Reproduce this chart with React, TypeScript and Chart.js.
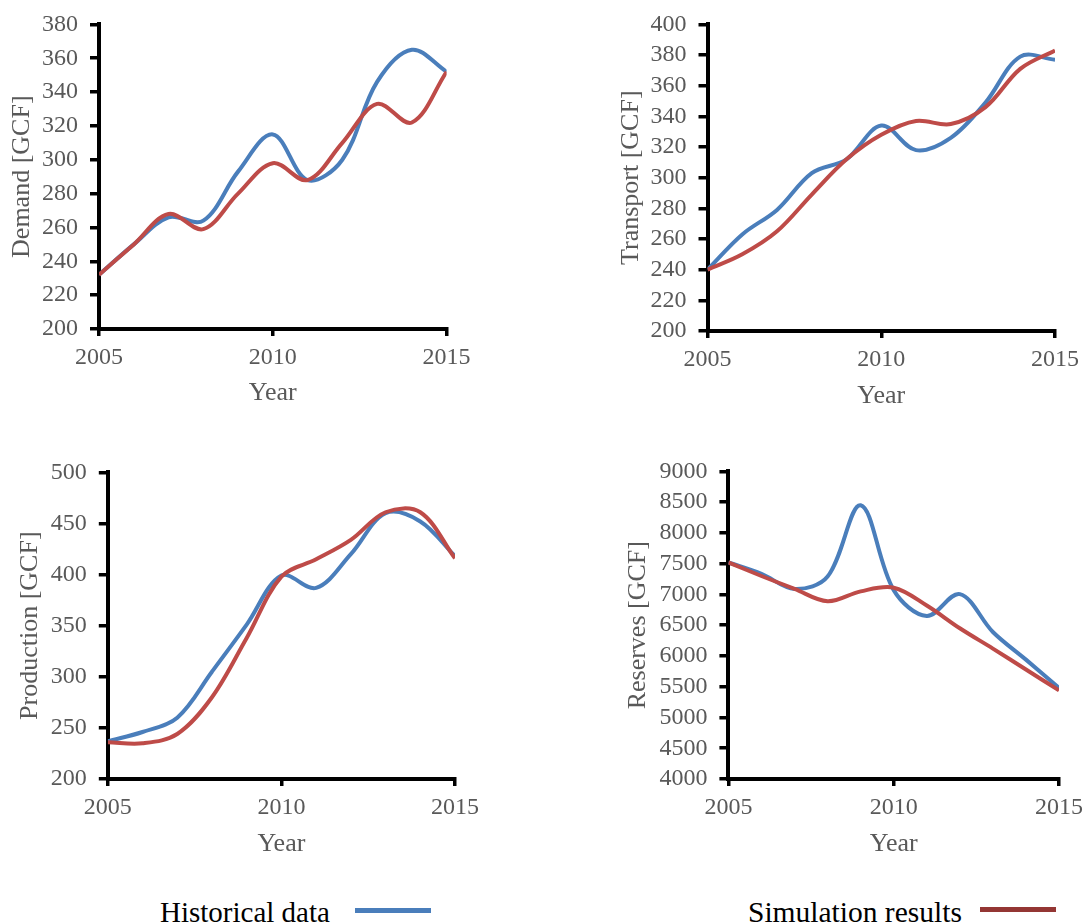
import React, { useEffect, useRef } from 'react';
import { Chart, registerables } from 'chart.js';

Chart.register(...registerables);

// ---------- data ----------
const years = [2005, 2006, 2007, 2008, 2009, 2010, 2011, 2012, 2013, 2014, 2015];
const xTickValues = [2005, 2010, 2015];

const demandHistorical = [232, 250, 266, 264, 293, 315, 288, 300, 346, 365, 352];
const demandSimulation = [232, 250, 268, 259, 280, 298, 288, 310, 333, 322, 352];
const demandTicks = [200, 220, 240, 260, 280, 300, 320, 340, 360, 380];

const transportHistorical = [240, 263, 279, 303, 312, 334, 318, 326, 349, 379, 377];
const transportSimulation = [240, 250, 265, 289, 312, 328, 337, 335, 346, 371, 383];
const transportTicks = [200, 220, 240, 260, 280, 300, 320, 340, 360, 380, 400];

const productionHistorical = [237, 246, 260, 305, 351, 399, 387, 420, 460, 452, 418];
const productionSimulation = [236, 235, 244, 280, 338, 398, 415, 434, 461, 461, 416];
const productionTicks = [200, 250, 300, 350, 400, 450, 500];

const reservesHistorical = [7520, 7335, 7090, 7290, 8450, 7070, 6650, 7005, 6390, 5940, 5480];
const reservesSimulation = [7520, 7300, 7090, 6890, 7050, 7110, 6820, 6450, 6120, 5780, 5440];
const reservesTicks = [4000, 4500, 5000, 5500, 6000, 6500, 7000, 7500, 8000, 8500, 9000];

const legendLabels = ['Historical data', 'Simulation results'];

// ---------- styles ----------
const FONT = "'Liberation Serif', 'Times New Roman', Times, serif";
const BLUE = '#4A7EBB';
const RED = '#BE4B48';
const RED_LEGEND = '#943634';
const TEXT = '#595959';
const TICK_SIZE = 24;
const TITLE_SIZE = 26;
const HALF_TITLE = (TITLE_SIZE * 1.2) / 2;

type Panel = {
  title: string;
  hist: number[];
  sim: number[];
  yTicks: number[];
  l: number; t: number; r: number; b: number;
  yTitleX: number; xTitleY: number;
};

const panels: Panel[] = [
  { title: 'Demand [GCF]', hist: demandHistorical, sim: demandSimulation, yTicks: demandTicks,
    l: 99, t: 20.5, r: 446.6, b: 329, yTitleX: 22.5, xTitleY: 393.6 },
  { title: 'Transport [GCF]', hist: transportHistorical, sim: transportSimulation, yTicks: transportTicks,
    l: 707.5, t: 20, r: 1055, b: 331, yTitleX: 631, xTitleY: 396.6 },
  { title: 'Production [GCF]', hist: productionHistorical, sim: productionSimulation, yTicks: productionTicks,
    l: 107.8, t: 468.3, r: 455, b: 779, yTitleX: 30, xTitleY: 844.3 },
  { title: 'Reserves [GCF]', hist: reservesHistorical, sim: reservesSimulation, yTicks: reservesTicks,
    l: 728.4, t: 467.3, r: 1063.3, b: 779, yTitleX: 638.3, xTitleY: 844.3 },
];

function geometry(p: Panel) {
  const cx = Math.floor(p.yTitleX - HALF_TITLE);
  const yTitlePad = p.yTitleX - HALF_TITLE - cx;
  const cy = Math.floor(p.t - 22);
  const padTop = p.t - cy;
  const rightEdge = Math.min(Math.round(p.r + 35), 1090);
  const cw = rightEdge - cx;
  const padRight = rightEdge - p.r;
  const bottomEdge = Math.ceil(p.xTitleY + HALF_TITLE);
  const ch = bottomEdge - cy;
  const xTitlePad = bottomEdge - HALF_TITLE - p.xTitleY;
  const yWidth = p.l - cx;
  const xHeight = bottomEdge - p.b;
  return { cx, cy, cw, ch, yTitlePad, padTop, padRight, xTitlePad, yWidth, xHeight };
}

function buildConfig(p: Panel): any {
  const g = geometry(p);
  const line = (label: string, values: number[], color: string, order: number) => ({
    label,
    data: years.map((x, i) => ({ x, y: values[i] })),
    borderColor: color,
    backgroundColor: color,
    borderWidth: 4,
    pointRadius: 0,
    tension: 0.35,
    fill: false,
    order,
  });
  const grid = (len: number) => ({
    display: true,
    drawOnChartArea: false,
    drawTicks: true,
    tickLength: len,
    color: '#000',
    lineWidth: 3.5,
  });
  return {
    type: 'line',
    data: {
      datasets: [
        line(legendLabels[1], p.sim, RED, 0),
        line(legendLabels[0], p.hist, BLUE, 1),
      ],
    },
    options: {
      animation: false,
      responsive: false,
      events: [],
      layout: { padding: { left: 0, top: g.padTop, right: g.padRight, bottom: 0 } },
      plugins: { legend: { display: false }, tooltip: { enabled: false } },
      scales: {
        x: {
          type: 'linear',
          min: years[0],
          max: years[years.length - 1],
          afterBuildTicks: (s: any) => { s.ticks = xTickValues.map((v) => ({ value: v })); },
          afterFit: (s: any) => { s.height = g.xHeight; },
          grid: grid(7),
          border: { display: true, color: '#000', width: 4 },
          ticks: {
            color: TEXT, font: { family: FONT, size: TICK_SIZE }, padding: 7,
            maxRotation: 0, autoSkip: false, callback: (v: any) => String(v),
          },
          title: {
            display: true, text: 'Year', color: TEXT,
            font: { family: FONT, size: TITLE_SIZE }, padding: { top: 0, bottom: g.xTitlePad },
          },
        },
        y: {
          type: 'linear',
          min: p.yTicks[0],
          max: p.yTicks[p.yTicks.length - 1],
          afterBuildTicks: (s: any) => { s.ticks = p.yTicks.map((v) => ({ value: v })); },
          afterFit: (s: any) => { s.width = g.yWidth; },
          grid: grid(9),
          border: { display: true, color: '#000', width: 4 },
          ticks: {
            color: TEXT, font: { family: FONT, size: TICK_SIZE }, padding: 12,
            autoSkip: false, callback: (v: any) => String(v),
          },
          title: {
            display: true, text: p.title, color: TEXT,
            font: { family: FONT, size: TITLE_SIZE }, padding: { top: g.yTitlePad, bottom: 0 },
          },
        },
      },
    },
  };
}

export default function App() {
  const refs = useRef<(HTMLCanvasElement | null)[]>([]);

  useEffect(() => {
    const charts = panels.map((p, i) => new Chart(refs.current[i] as HTMLCanvasElement, buildConfig(p)));
    return () => charts.forEach((c) => c.destroy());
  }, []);

  const legendText = (left: number): React.CSSProperties => ({
    position: 'absolute', left, top: 897.5, fontFamily: FONT, fontSize: 29, lineHeight: '29px',
    color: '#000', whiteSpace: 'nowrap',
  });

  return (
    <div style={{ position: 'absolute', left: 0, top: 0, width: 1091, height: 924, overflow: 'hidden', background: '#fff' }}>
      {panels.map((p, i) => {
        const g = geometry(p);
        return (
          <canvas
            key={p.title}
            ref={(el) => { refs.current[i] = el; }}
            width={g.cw}
            height={g.ch}
            style={{ position: 'absolute', left: g.cx, top: g.cy, width: g.cw, height: g.ch }}
          />
        );
      })}
      <div style={legendText(160)}>{legendLabels[0]}</div>
      <div style={{ position: 'absolute', left: 355, top: 908.3, width: 76, height: 5, background: BLUE }} />
      <div style={{ ...legendText(748), fontSize: 29.5 }}>{legendLabels[1]}</div>
      <div style={{ position: 'absolute', left: 980, top: 906.7, width: 76, height: 5, background: RED_LEGEND }} />
    </div>
  );
}
